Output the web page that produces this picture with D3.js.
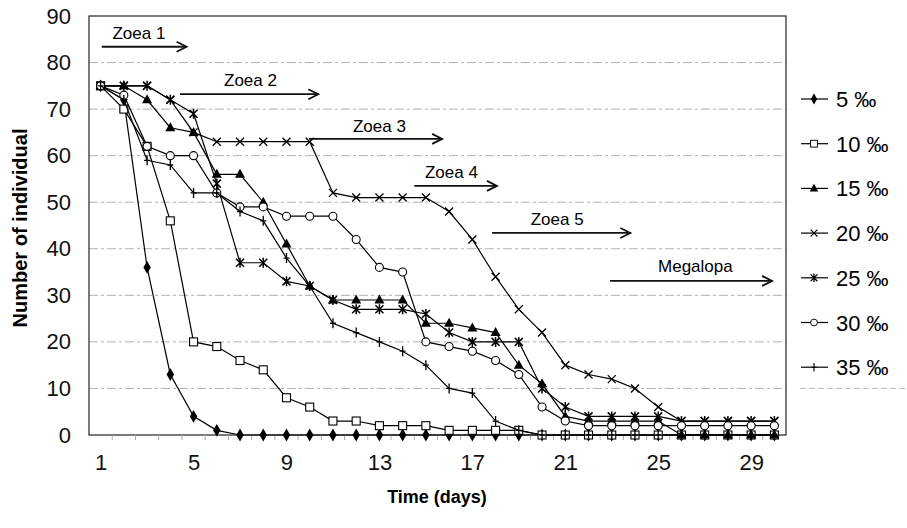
<!DOCTYPE html>
<html>
<head>
<meta charset="utf-8">
<script src="https://cdn.jsdelivr.net/npm/d3@7"></script>
<style>
  body { margin: 0; background: #fff; }
  svg { font-family: "Liberation Sans", Arial, sans-serif; }
</style>
</head>
<body>
<svg id="chart" width="907" height="528"></svg>
<script>
// days on the x axis
var days = [1,2,3,4,5,6,7,8,9,10,11,12,13,14,15,16,17,18,19,20,21,22,23,24,25,26,27,28,29,30];
var dayTicks = [1,5,9,13,17,21,25,29];
var countTicks = [0,10,20,30,40,50,60,70,80,90];

// number of individuals per salinity
var s5  = [75,72,36,13,4,1,0,0,0,0,0,0,0,0,0,0,0,0,0,0,0,0,0,0,0,0,0,0,0,0];
var s10 = [75,70,62,46,20,19,16,14,8,6,3,3,2,2,2,1,1,1,1,0,0,0,0,0,0,0,0,0,0,0];
var s15 = [75,75,72,66,65,56,56,50,41,32,29,29,29,29,24,24,23,22,15,11,4,3,3,3,3,0,0,0,0,0];
var s20 = [75,75,75,72,65,63,63,63,63,63,52,51,51,51,51,48,42,34,27,22,15,13,12,10,6,3,3,3,3,3];
var s25 = [75,75,75,72,69,54,37,37,33,32,29,27,27,27,26,22,20,20,20,10,6,4,4,4,4,3,3,3,3,3];
var s30 = [75,73,62,60,60,52,49,49,47,47,47,42,36,35,20,19,18,16,13,6,3,2,2,2,2,2,2,2,2,2];
var s35 = [75,72,59,58,52,52,48,46,38,32,24,22,20,18,15,10,9,3,1,0,0,0,0,0,0,0,0,0,0,0];

var seriesNames = ["5 \u2030","10 \u2030","15 \u2030","20 \u2030","25 \u2030","30 \u2030","35 \u2030"];
var seriesValues = [s5, s10, s15, s20, s25, s30, s35];
var seriesMarks = ["diamond","square","triangle","cross","star","circle","plus"];

// larval stage annotations (text at day/count, arrow from day to day)
var stageNames = ["Zoea 1","Zoea 2","Zoea 3","Zoea 4","Zoea 5","Megalopa"];
var stageTextDay = [2.65, 7.45, 13.0, 16.1, 20.65, 26.6];
var stageTextCount = [86.3, 76.2, 66.4, 56.5, 46.3, 36.3];
var stageFrom = [1.05, 4.42, 9.97, 14.5, 17.85, 22.93];
var stageTo = [4.7, 10.37, 15.7, 18.06, 23.8, 29.9];
var stageArrowCount = [83.4, 73.2, 63.6, 53.5, 43.4, 33.1];

var svg = d3.select("#chart");
var plotL = 89, plotR = 786, plotT = 16, plotB = 435;

var x = d3.scaleLinear().domain([0.5, 30.5]).range([plotL, plotR]);
var y = d3.scaleLinear().domain([0, 90]).range([plotB, plotT]);

//gridlines
svg.append("g")
    .selectAll("line")
    .data(countTicks.filter(d => d > 0 && d < 90))
    .enter()
    .append("line")
        .attr("x1", plotL).attr("x2", plotR)
        .attr("y1", d => y(d)).attr("y2", d => y(d))
        .style("stroke", "#b0b0b0")
        .style("stroke-width", 1)
        .style("stroke-dasharray", "9,3,3,3");

// stray grid trace right of the plot
svg.append("line")
    .attr("x1", 800).attr("x2", 905)
    .attr("y1", y(10)).attr("y2", y(10))
    .style("stroke", "#bdbdbd")
    .style("stroke-dasharray", "6,3");

//plot frame
svg.append("rect")
    .attr("x", plotL).attr("y", plotT)
    .attr("width", plotR - plotL).attr("height", plotB - plotT)
    .style("fill", "none")
    .style("stroke", "#222")
    .style("stroke-width", 1.2);

//category tick marks under the axis
svg.append("g")
    .selectAll("line")
    .data(days.slice(0, 29))
    .enter()
    .append("line")
        .attr("x1", d => x(d + 0.5)).attr("x2", d => x(d + 0.5))
        .attr("y1", plotB).attr("y2", plotB + 5)
        .style("stroke", "#aaa");

//axes
var yAxis = svg.append("g")
    .attr("transform", `translate(${plotL},0)`)
    .call(d3.axisLeft(y).tickValues(countTicks).tickSize(0).tickPadding(18));
var xAxis = svg.append("g")
    .attr("transform", `translate(0,${plotB})`)
    .call(d3.axisBottom(x).tickValues(dayTicks).tickSize(0).tickPadding(19));
[yAxis, xAxis].forEach(a => {
    a.select(".domain").remove();
    a.selectAll("text")
        .style("font-size", "22px")
        .style("font-family", "'Liberation Sans', Arial, sans-serif")
        .style("fill", "#111");
});

//axis titles
svg.append("text")
    .attr("transform", "translate(27,228) rotate(-90)")
    .style("text-anchor", "middle")
    .style("font-weight", "bold")
    .style("font-size", "20px")
    .text("Number of individual");
svg.append("text")
    .attr("x", 437).attr("y", 503)
    .style("text-anchor", "middle")
    .style("font-weight", "bold")
    .style("font-size", "18px")
    .text("Time (days)");

//stage arrows
var stages = svg.append("g");
stageNames.forEach((name, i) => {
    var ay = y(stageArrowCount[i]);
    var x1 = x(stageFrom[i]), x2 = x(stageTo[i]);
    stages.append("text")
        .attr("x", x(stageTextDay[i]))
        .attr("y", y(stageTextCount[i]) + 6)
        .style("text-anchor", "middle")
        .style("font-size", "17px")
        .text(name);
    stages.append("line")
        .attr("x1", x1).attr("x2", x2)
        .attr("y1", ay).attr("y2", ay)
        .style("stroke", "#111").style("stroke-width", 1.8);
    stages.append("path")
        .attr("d", `M${x2 - 10},${ay - 5}L${x2},${ay}L${x2 - 10},${ay + 5}`)
        .style("fill", "none").style("stroke", "#111").style("stroke-width", 1.8);
});

//draw one marker into a group
function drawMark(g, kind){
    if (kind == "diamond"){
        g.append("path").attr("d", d3.symbol(d3.symbolDiamond, 48)())
            .style("fill", "#000");
    } else if (kind == "square"){
        g.append("rect").attr("x", -4).attr("y", -4).attr("width", 8).attr("height", 8)
            .style("fill", "#fff").style("stroke", "#000").style("stroke-width", 1.1);
    } else if (kind == "triangle"){
        g.append("path").attr("d", "M0,-5.5L5,3.5L-5,3.5Z")
            .style("fill", "#000");
    } else if (kind == "cross"){
        g.append("path").attr("d", "M-4,-4L4,4M-4,4L4,-4")
            .style("stroke", "#000").style("stroke-width", 1.3);
    } else if (kind == "star"){
        g.append("path").attr("d", "M-4,-4L4,4M-4,4L4,-4M0,-5L0,5")
            .style("stroke", "#000").style("stroke-width", 1.5);
    } else if (kind == "circle"){
        g.append("circle").attr("r", 4)
            .style("fill", "#fff").style("stroke", "#000").style("stroke-width", 1.1);
    } else {
        g.append("path").attr("d", "M0,-5L0,5M-3,0L3,0")
            .style("stroke", "#000").style("stroke-width", 1.3);
    }
}

//series lines and markers
var line = d3.line()
    .x((d, i) => x(days[i]))
    .y(d => y(d));

seriesValues.forEach((vals, s) => {
    var g = svg.append("g").attr("class", "series");
    g.append("path")
        .attr("d", line(vals))
        .style("fill", "none")
        .style("stroke", "#000")
        .style("stroke-width", 1.2);
    g.selectAll("g.mark")
        .data(vals)
        .enter()
        .append("g")
            .attr("class", "mark")
            .attr("transform", (d, i) => `translate(${x(days[i])},${y(d)})`)
            .each(function(){ drawMark(d3.select(this), seriesMarks[s]); });
});

//legend
var legend = svg.append("g");
seriesNames.forEach((name, i) => {
    var ly = 99 + i * 44.7;
    var row = legend.append("g").attr("transform", `translate(0,${ly})`);
    row.append("line")
        .attr("x1", 801).attr("x2", 828)
        .style("stroke", "#000").style("stroke-width", 1.2);
    drawMark(row.append("g").attr("transform", "translate(814,0) scale(0.85)"), seriesMarks[i]);
    row.append("text")
        .attr("x", 836).attr("y", 8)
        .style("font-size", "22px")
        .text(name);
});
</script>
</body>
</html>
